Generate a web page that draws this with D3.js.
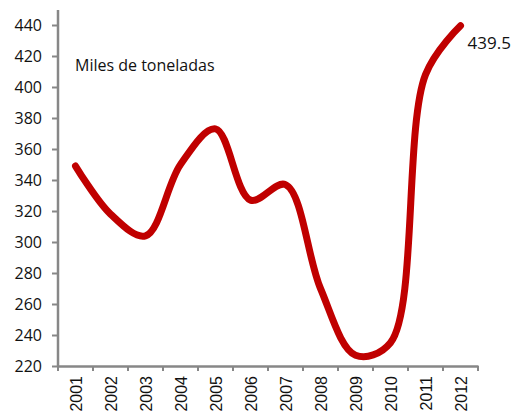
<!DOCTYPE html>
<html>
<head>
<meta charset="utf-8">
<script src="https://cdn.jsdelivr.net/npm/d3@7"></script>
<style>
  body { margin: 0; background: #fff; }
  svg { display: block; font-family: "Open Sans", sans-serif; }
</style>
</head>
<body>
<svg></svg>
<script>
const years = ["2001", "2002", "2003", "2004", "2005", "2006", "2007", "2008", "2009", "2010", "2011", "2012"]
const values = [349, 318, 304, 350, 373, 327, 337, 270, 227, 235, 408, 439.5]
const yTicks = [220, 240, 260, 280, 300, 320, 340, 360, 380, 400, 420, 440]

const width = 516
const height = 413
const margin = { left: 58, right: 38, top: 25, bottom: 47 }

const svg = d3.select("svg")
  .attr("width", width)
  .attr("height", height)

const x = d3.scaleBand()
  .domain(years)
  .range([margin.left, width - margin.right])

const y = d3.scaleLinear()
  .domain([220, 440])
  .range([height - margin.bottom, margin.top])

// y axis
const yAxis = svg.append("g")
  .attr("transform", "translate(" + margin.left + ",0)")
  .call(d3.axisLeft(y).tickValues(yTicks).tickSize(6).tickSizeOuter(0).tickPadding(10))
yAxis.select(".domain").attr("stroke", "#878787").attr("stroke-width", 2.5)
  .attr("d", "M0," + (y(440) - 15) + "V" + y(220))
yAxis.selectAll(".tick line").attr("stroke", "#878787").attr("stroke-width", 2)
yAxis.selectAll(".tick text").attr("font-size", 16).attr("fill", "#111")
  .attr("font-family", "Open Sans, sans-serif")

// x axis
const xAxis = svg.append("g")
  .attr("transform", "translate(0," + y(220) + ")")
const xLine = d3.axisBottom(x).tickSize(0).tickFormat("")
xAxis.call(xLine)
xAxis.select(".domain").attr("stroke", "#878787").attr("stroke-width", 2.5)
const bounds = x.domain().map(d => x(d)).concat([x.range()[1]])
xAxis.selectAll(".sep")
  .data(bounds)
  .enter()
  .append("line")
  .attr("class", "sep")
  .attr("x1", d => d).attr("x2", d => d)
  .attr("y1", 0).attr("y2", 5)
  .attr("stroke", "#878787").attr("stroke-width", 2)
xAxis.selectAll(".lbl")
  .data(years)
  .enter()
  .append("text")
  .attr("class", "lbl")
  .attr("transform", d => "translate(" + (x(d) + x.bandwidth() / 2 + 6) + ",10) rotate(-90)")
  .attr("text-anchor", "end")
  .attr("font-size", 16)
  .attr("fill", "#111")
  .text(d => d)

// line
const line = d3.line()
  .x((d, i) => x(years[i]) + x.bandwidth() / 2)
  .y(d => y(d))
  .curve(d3.curveCatmullRom.alpha(0.5))

svg.append("path")
  .datum(values)
  .attr("fill", "none")
  .attr("stroke", "#c00000")
  .attr("stroke-width", 7)
  .attr("stroke-linecap", "round")
  .attr("stroke-linejoin", "round")
  .attr("d", line)

// labels
const last = values.length - 1
svg.append("text")
  .attr("x", x(years[last]) + x.bandwidth() / 2 + 7)
  .attr("y", y(values[last]) + 23)
  .attr("font-size", 17)
  .attr("fill", "#111")
  .text(values[last])

svg.append("text")
  .attr("x", 75)
  .attr("y", 71)
  .attr("font-size", 16)
  .attr("fill", "#111")
  .text("Miles de toneladas")
</script>
</body>
</html>
